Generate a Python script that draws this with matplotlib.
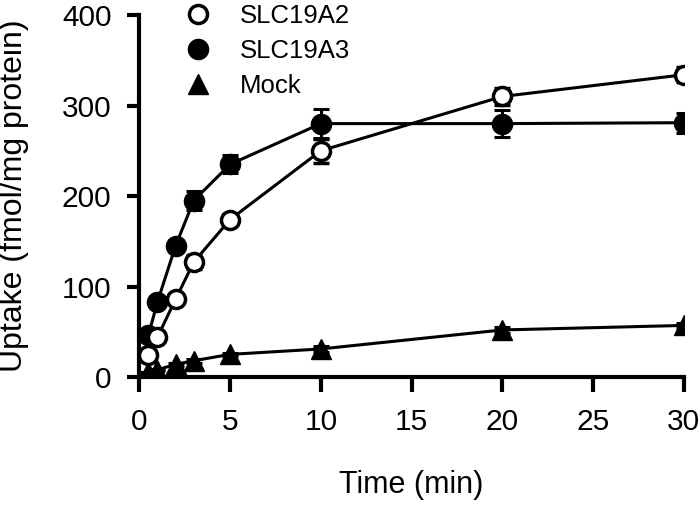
import matplotlib
matplotlib.use("Agg")
import matplotlib.pyplot as plt
from matplotlib.lines import Line2D

plt.rcParams['font.family'] = ['Liberation Sans', 'DejaVu Sans']

time = [0.5, 1, 2, 3, 5, 10, 20, 30]
slc19a2 = [24, 44, 86, 127, 174, 250, 310, 334]
slc19a2_err = [3, 4, 4, 8, 6, 13, 9, 8]
slc19a3 = [46, 83, 145, 195, 235, 280, 280, 281]
slc19a3_err = [4, 5, 6, 10, 10, 16, 15, 11]
mock = [5, 8, 14, 18, 25, 31, 52, 57]
mock_err = [1, 1, 2, 2, 2, 3, 3, 3]

xticks = [0, 5, 10, 15, 20, 25, 30]
yticks = [0, 100, 200, 300, 400]

fig = plt.figure(figsize=(7.0, 5.07), dpi=100)
ax = fig.add_axes([0.199, 0.2564, 0.778, 0.714])

lw = 2.2
eb = dict(color='black', lw=lw, capsize=6, capthick=2.2, elinewidth=2.2)
ax.errorbar(time, slc19a3, yerr=slc19a3_err, marker='o', ms=14.5,
            mfc='black', mec='black', zorder=3, **eb)
ax.errorbar(time, slc19a2, yerr=slc19a2_err, marker='o', ms=13,
            mfc='white', mec='black', mew=2.5, zorder=4, **eb)
ax.errorbar(time, mock, yerr=mock_err, marker='^', ms=15,
            mfc='black', mec='black', zorder=3, **eb)

ax.set_xlim(0, 30)
ax.set_ylim(0, 400)
ax.set_xticks(xticks)
ax.set_yticks(yticks)
ax.spines['top'].set_visible(False)
ax.spines['right'].set_visible(False)
for s in ['left', 'bottom']:
    ax.spines[s].set_linewidth(3)
ax.tick_params(direction='out', width=3, labelsize=21.5)
ax.tick_params(axis='y', length=9, pad=11)
ax.tick_params(axis='x', length=11, pad=11)

ax.set_xlabel('Time (min)', fontsize=22)
ax.set_ylabel('Uptake (fmol/mg protein)', fontsize=23)
ax.xaxis.set_label_coords(0.5, -0.298)
ax.xaxis.label.set_va('center')
ax.yaxis.set_label_coords(-0.2296, 0.5)
ax.yaxis.label.set_va('center')

handles = [
    Line2D([], [], ls='none', marker='o', ms=13, mfc='white', mec='black', mew=2.5),
    Line2D([], [], ls='none', marker='o', ms=14.5, mfc='black', mec='black'),
    Line2D([], [], ls='none', marker='^', ms=15, mfc='black', mec='black'),
]
ax.legend(handles, ['SLC19A2', 'SLC19A3', 'Mock'], loc='upper left',
          bbox_to_anchor=(0.081, 1.03), frameon=False, fontsize=18.5,
          handlelength=1.1, handletextpad=1.1, labelspacing=0.42,
          borderaxespad=0, borderpad=0)

fig.savefig('out.png', dpi=100)
